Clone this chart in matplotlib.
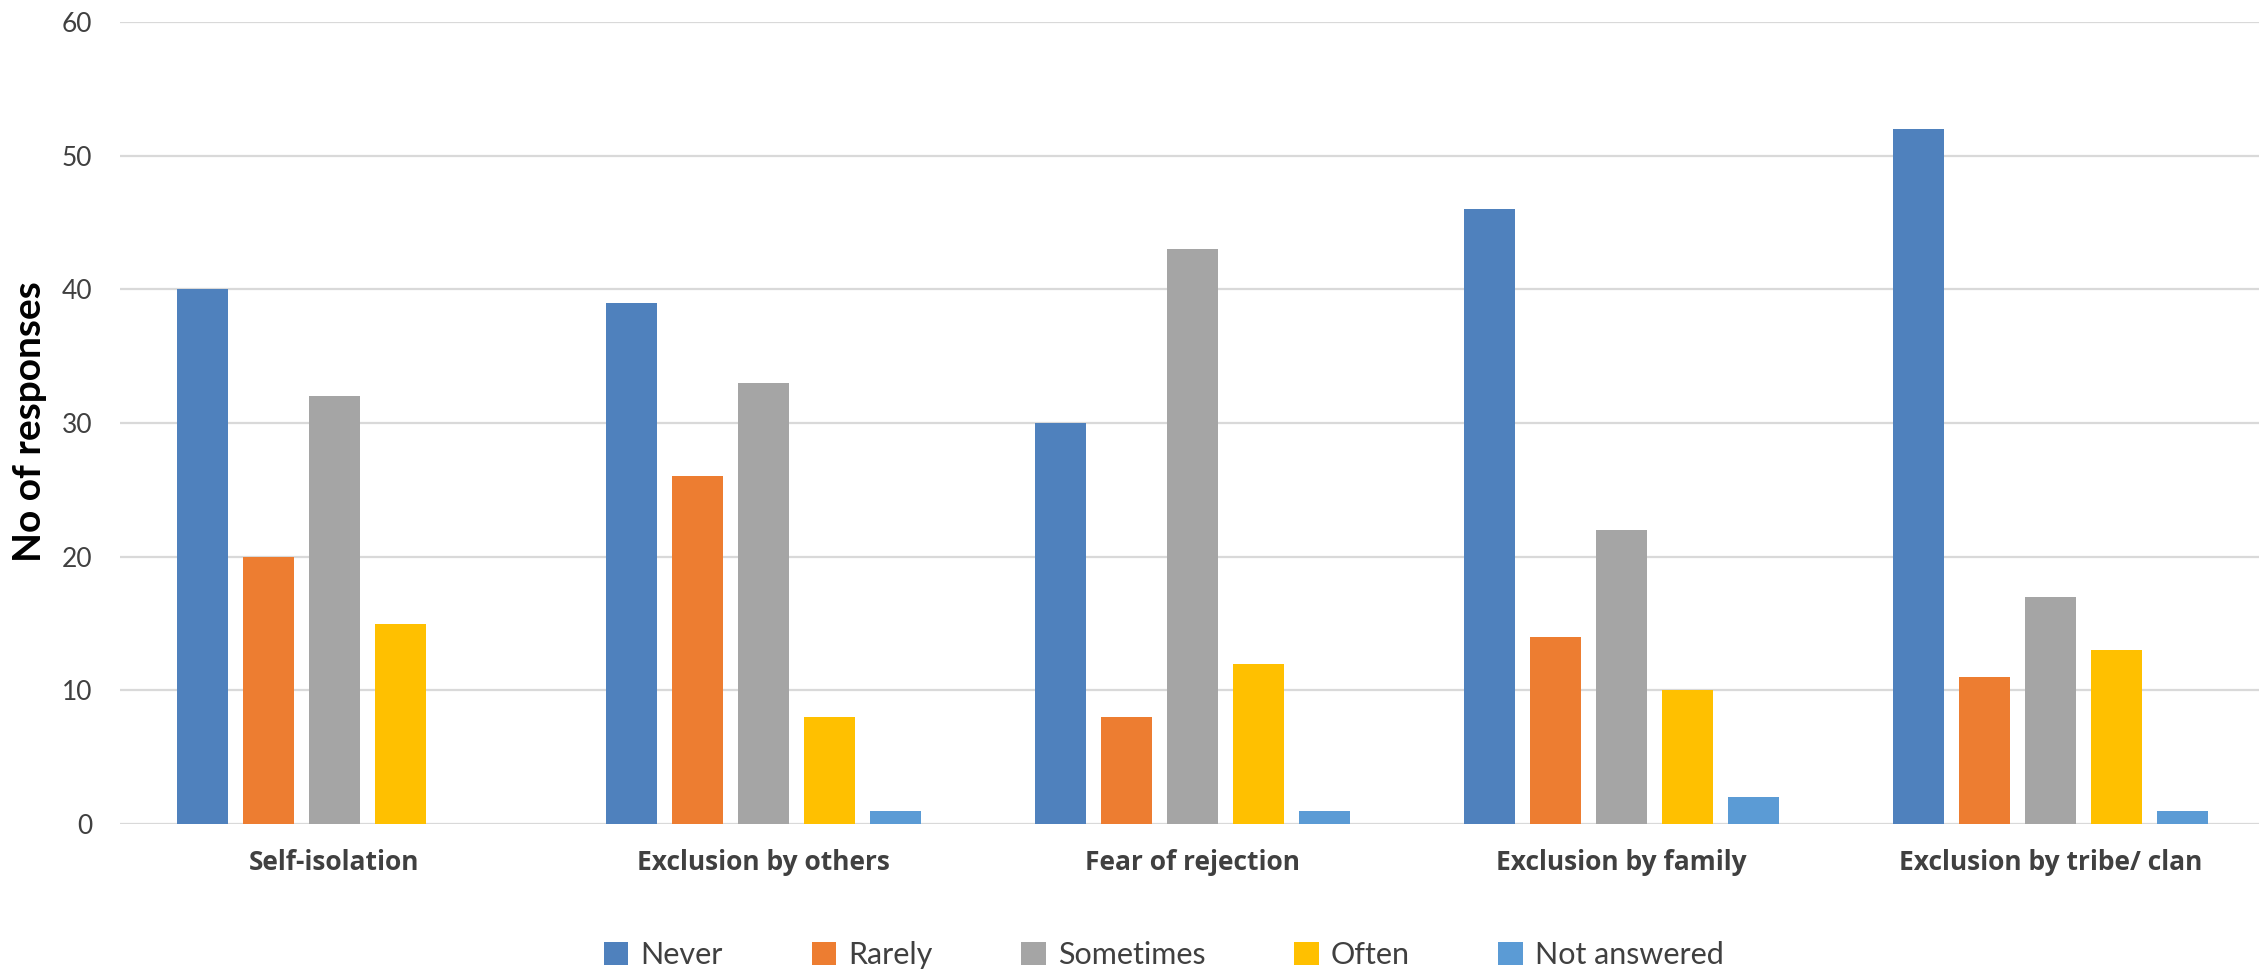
import numpy as np
import matplotlib
matplotlib.use("Agg")
from matplotlib import pyplot as plt

# survey categories and response counts per answer
categories = ["Self-isolation", "Exclusion by others", "Fear of rejection",
              "Exclusion by family", "Exclusion by tribe/ clan"]
answers = ["Never", "Rarely", "Sometimes", "Often", "Not answered"]

never = [40, 39, 30, 46, 52]
rarely = [20, 26, 8, 14, 11]
sometimes = [32, 33, 43, 22, 17]
often = [15, 8, 12, 10, 13]
not_answered = [0, 1, 1, 2, 1]

colors = ["#4F81BD", "#ED7D31", "#A5A5A5", "#FFC000", "#5B9BD5"]

W, H = 2259, 977
fig = plt.figure(figsize=(W / 100, H / 100), dpi=100)
ax = fig.add_axes([120 / W, (H - 824) / H, 2145 / W, (824 - 22) / H])

x = np.arange(len(categories))
pitch = 0.1538    # distance between neighbouring bars in a group
width = 0.12      # bar width
series = [never, rarely, sometimes, often, not_answered]
for i, (vals, c, lab) in enumerate(zip(series, colors, answers)):
    ax.bar(x + (i - 2) * pitch, vals, width, color=c, label=lab, zorder=3)

ax.set_xlim(-0.5, len(categories) - 0.5)
ax.set_ylim(0, 60)
ax.set_yticks(range(0, 61, 10))
ax.grid(axis="y", color="#d9d9d9", linewidth=1.6, zorder=0)
ax.set_axisbelow(True)
for s in ax.spines.values():
    s.set_visible(False)

ax.tick_params(axis="y", length=0, pad=20, labelsize=19, labelcolor="#404040")
ax.tick_params(axis="x", length=0, pad=18)
for t in ax.get_yticklabels():
    t.set_fontfamily("Lato")
ax.set_xticks(x)
ax.set_xticklabels(categories, fontfamily="Open Sans", fontweight="bold",
                   fontsize=19, color="#404040")

fig.text(30 / W, 1 - 422 / H, "No of responses", rotation=90,
         ha="center", va="center", fontfamily="Lato", fontweight="bold",
         fontsize=28, color="black")

leg = fig.legend(loc="center", bbox_to_anchor=(1164 / W, 1 - 955 / H),
                 ncol=5, frameon=False, handlelength=0.8, handleheight=0.8,
                 handletextpad=0.4, columnspacing=2.9,
                 prop={"family": "Lato", "size": 22})
for t in leg.get_texts():
    t.set_color("#404040")

fig.savefig("out.png", dpi=100)
